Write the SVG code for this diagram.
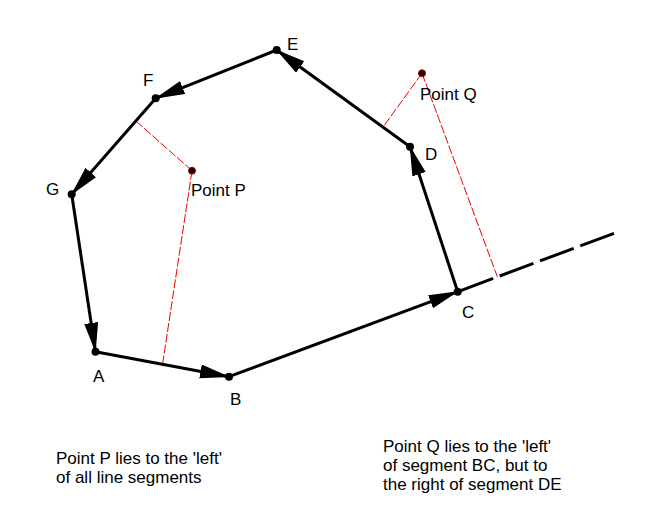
<svg xmlns="http://www.w3.org/2000/svg" width="656" height="532" viewBox="0 0 656 532">
<style>
.seg{stroke:#000;stroke-width:3;fill:none;marker-end:url(#arr)}
.ext{stroke:#000;stroke-width:3;fill:none;stroke-dasharray:36 7}
.perp{stroke:#e00;stroke-width:1;fill:none;stroke-dasharray:9 2}
.dot{fill:#000}
.pdot{fill:#200;stroke:#a00;stroke-width:1}
text{font-family:"Liberation Sans",Arial,sans-serif;font-size:17px;fill:#000}
</style>
<defs>
<marker id="arr" markerUnits="userSpaceOnUse" markerWidth="32" markerHeight="16" refX="29" refY="7" orient="auto">
<path d="M0,0 L30,7 L0,14 z" fill="#000"/>
</marker>
</defs>
<rect width="656" height="532" fill="#fff"/>
<g id="connectors">
<line class="ext" x1="614" y1="233.3" x2="457.7" y2="291.7"/>
<line class="perp" x1="192" y1="170.7" x2="136.7" y2="121.7"/>
<line class="perp" x1="192" y1="170.7" x2="162.7" y2="363.3"/>
<line class="perp" x1="422" y1="73.3" x2="383.3" y2="126.7"/>
<line class="perp" x1="422" y1="73.3" x2="497.3" y2="276.7"/>
<line class="seg" x1="95.5" y1="351.7" x2="229" y2="376.7"/>
<line class="seg" x1="229" y1="376.7" x2="457.7" y2="291.7"/>
<line class="seg" x1="457.7" y1="291.7" x2="410" y2="146.7"/>
<line class="seg" x1="410" y1="146.7" x2="276.7" y2="50"/>
<line class="seg" x1="276.7" y1="50" x2="155.7" y2="98.3"/>
<line class="seg" x1="155.7" y1="98.3" x2="71.7" y2="194.3"/>
<line class="seg" x1="71.7" y1="194.3" x2="95.5" y2="351.7"/>
</g>
<g id="node-A"><circle class="dot" cx="95.5" cy="351.7" r="4"/><text x="93" y="382">A</text></g>
<g id="node-B"><circle class="dot" cx="229" cy="376.7" r="4"/><text x="230" y="405">B</text></g>
<g id="node-C"><circle class="dot" cx="457.7" cy="291.7" r="4"/><text x="462" y="318">C</text></g>
<g id="node-D"><circle class="dot" cx="410" cy="146.7" r="4"/><text x="425" y="160">D</text></g>
<g id="node-E"><circle class="dot" cx="276.7" cy="50" r="4"/><text x="287" y="50">E</text></g>
<g id="node-F"><circle class="dot" cx="155.7" cy="98.3" r="4"/><text x="143" y="86">F</text></g>
<g id="node-G"><circle class="dot" cx="71.7" cy="194.3" r="4"/><text x="46" y="195">G</text></g>
<g id="node-P"><circle class="pdot" cx="192" cy="170.7" r="3.5"/><text x="191" y="196">Point P</text></g>
<g id="node-Q"><circle class="pdot" cx="422" cy="73.3" r="3.5"/><text x="420" y="100">Point Q</text></g>
<g id="note-left"><text x="56" y="464">Point P lies to the 'left'</text><text x="56" y="483">of all line segments</text></g>
<g id="note-right"><text x="383" y="452">Point Q lies to the 'left'</text><text x="383" y="471">of segment BC, but to</text><text x="383" y="490">the right of segment DE</text></g>
</svg>
